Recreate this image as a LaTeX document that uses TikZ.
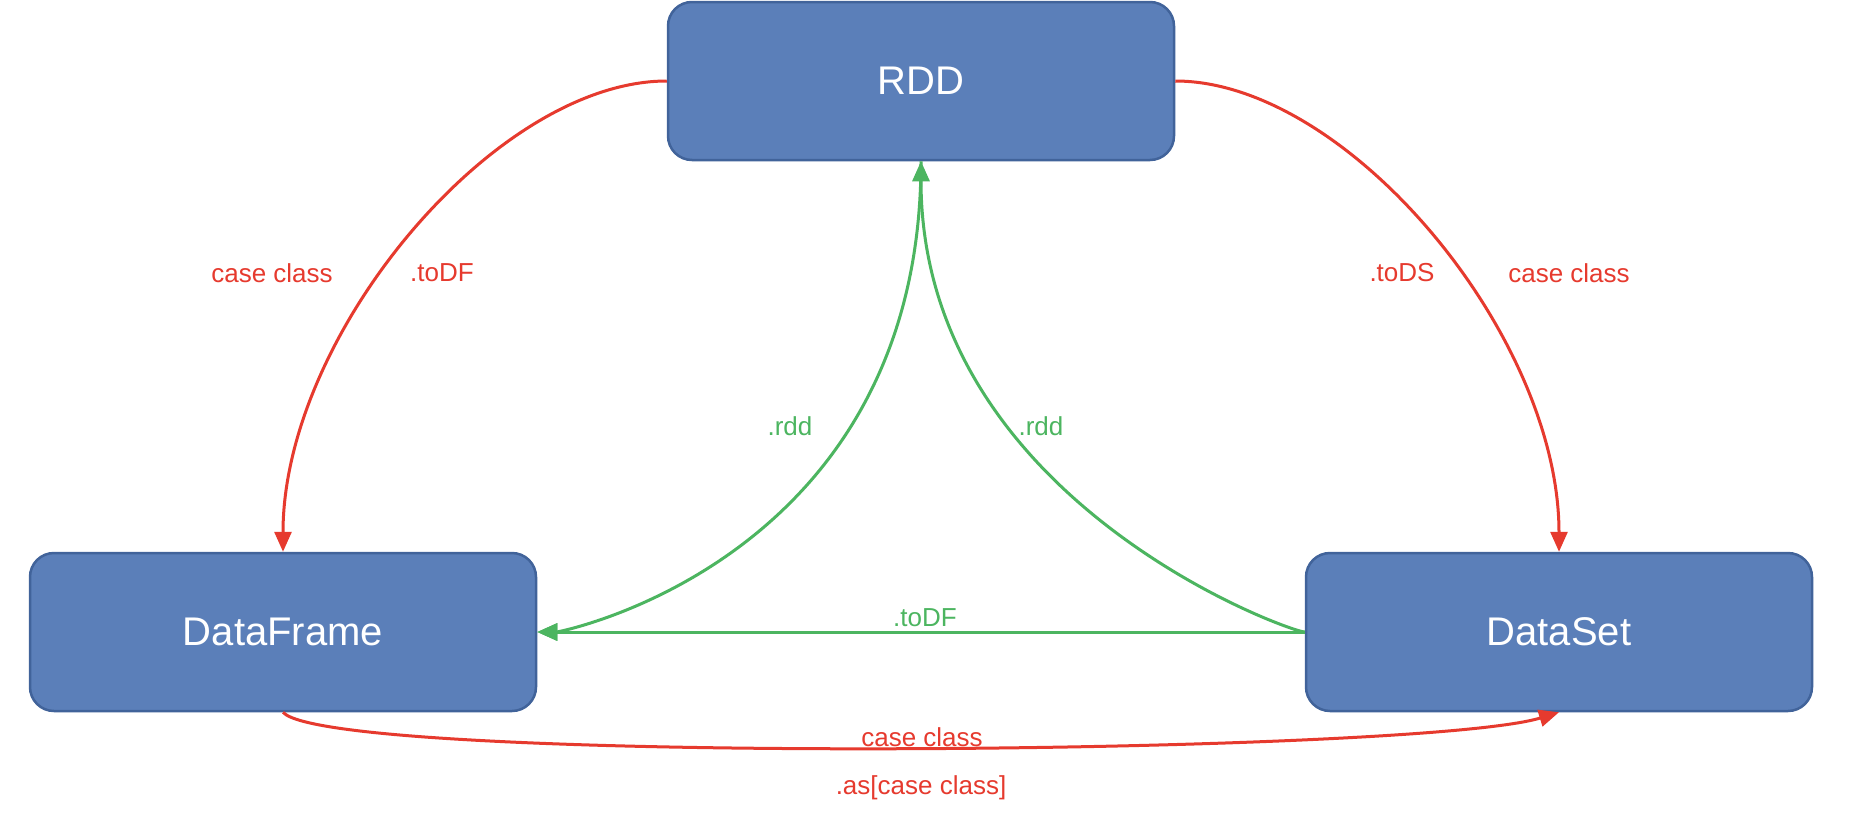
\documentclass[tikz,border=0pt]{standalone}
\usepackage{fontspec}
\setmainfont{Liberation Sans}
\usetikzlibrary{arrows.meta}
\definecolor{boxfill}{HTML}{5B7FB9}
\definecolor{boxline}{HTML}{41639A}
\definecolor{redline}{HTML}{E63A2E}
\definecolor{greenline}{HTML}{4CB560}
\begin{document}
\begin{tikzpicture}[x=1pt,y=-1pt,
  box/.style={draw=boxline, line width=2.5pt, fill=boxfill, rounded corners=24pt,
    minimum width=506pt, minimum height=158pt, inner sep=0pt, text=white,
    font=\fontsize{40}{48}\selectfont},
  redarrow/.style={draw=redline, line width=3pt, -{Triangle[length=20pt,width=17pt]}},
  greenarrow/.style={draw=greenline, line width=3pt, -{Triangle[length=20pt,width=17pt]}},
  redlabel/.style={text=redline, inner sep=0pt, font=\fontsize{26}{30}\selectfont},
  greenlabel/.style={text=greenline, inner sep=0pt, font=\fontsize{26}{30}\selectfont}]
\useasboundingbox (0,0) rectangle (1864,822);
\fill[white] (0,0) rectangle (1864,822);

\node[box] (RDD) at (921,81) {RDD};
\node[box] (DF) at (283,632) {DataFrame};
\node[box] (DS) at (1559,632) {DataSet};

\draw[redarrow] (RDD.west) .. controls (495,81) and (283,335) .. (DF.north);
\draw[redarrow] (RDD.east) .. controls (1347,81) and (1559,335) .. (DS.north);
\draw[greenarrow] (RDD.south) .. controls (921,560) and (560,632) .. (DF.east);
\draw[greenarrow] (DS.west) .. controls (1290,632) and (921,500) .. (RDD.south);
\draw[greenarrow] (DS.west) -- (DF.east);
\draw[redarrow] (DF.south) .. controls (330,765) and (1420,755) .. (DS.south);

\node[redlabel] (l1) at (272,273) {case class};
\node[redlabel] (l2) at (442,273) {.toDF};
\node[redlabel] (l3) at (1402,273) {.toDS};
\node[redlabel] (l4) at (1569,273) {case class};
\node[greenlabel] (l5) at (790,426) {.rdd};
\node[greenlabel] (l6) at (1041,426) {.rdd};
\node[greenlabel] (l7) at (925,618) {.toDF};
\node[redlabel] (l8) at (922,737) {case class};
\node[redlabel] (l9) at (921,788) {.as[case class]};
\end{tikzpicture}
\end{document}
